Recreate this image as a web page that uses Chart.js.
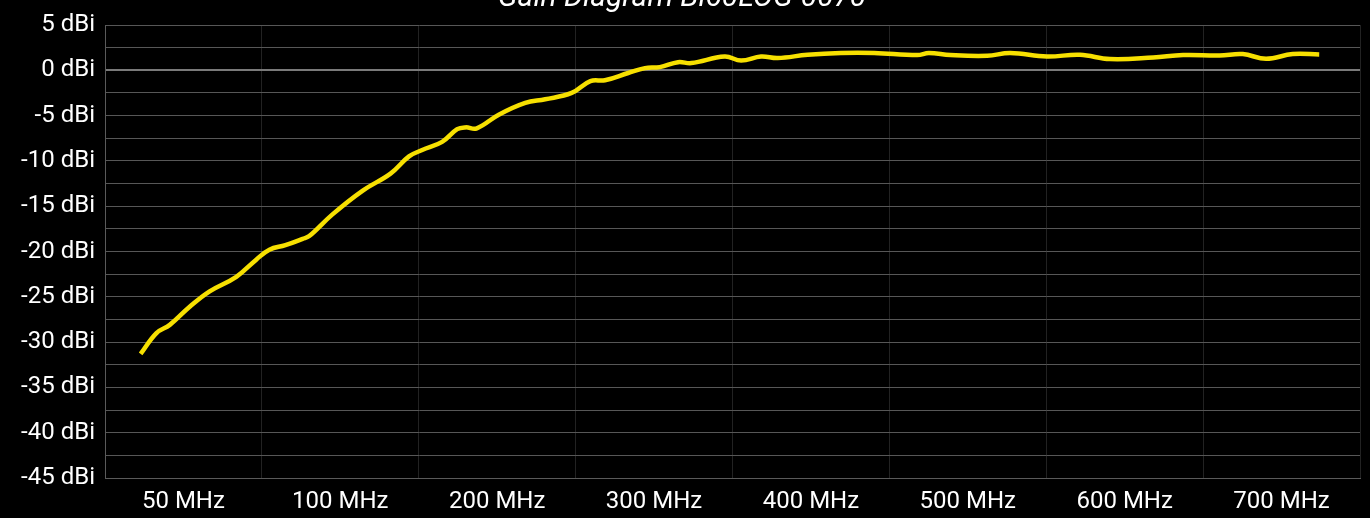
<!DOCTYPE html>
<html>
<head>
<meta charset="utf-8">
<script src="https://cdn.jsdelivr.net/npm/chart.js@4/dist/chart.umd.min.js"></script>
<style>
  html, body { margin: 0; padding: 0; background: #000; overflow: hidden; }
  #wrap { position: relative; width: 1370px; height: 518px; overflow: hidden; }
  #box { position: absolute; left: 0; top: -20px; width: 1370px; height: 538px; }
</style>
</head>
<body>
<div id="wrap"><div id="box"><canvas id="gain"></canvas></div></div>
<script>
// band labels under the x axis (one per band)
const bandLabels = ['50 MHz', '100 MHz', '200 MHz', '300 MHz', '400 MHz', '500 MHz', '600 MHz', '700 MHz'];

// measurement positions along the x axis (in band units) and gain in dBi
const xPos = [0.227, 0.328, 0.413, 0.540, 0.667, 0.837, 0.964, 1.048, 1.150, 1.260,
  1.302, 1.450, 1.641, 1.820, 1.938, 2.022, 2.149, 2.245, 2.298, 2.370,
  2.510, 2.679, 2.806, 2.975, 3.094, 3.187, 3.335, 3.442, 3.537, 3.653,
  3.738, 3.950, 4.055, 4.182, 4.288, 4.479, 4.691, 4.903, 5.178, 5.252,
  5.389, 5.623, 5.771, 6.004, 6.215, 6.406, 6.682, 6.872, 7.105, 7.253,
  7.401, 7.571, 7.740];
const gain = [-31.3, -29.0, -28.1, -26.1, -24.4, -22.8, -20.9, -19.8, -19.3, -18.6,
  -18.3, -15.9, -13.3, -11.4, -9.5, -8.8, -7.9, -6.5, -6.3, -6.4,
  -4.9, -3.6, -3.2, -2.5, -1.2, -1.1, -0.3, 0.24, 0.35, 0.9,
  0.8, 1.52, 1.08, 1.52, 1.35, 1.71, 1.9, 1.9, 1.68, 1.9,
  1.68, 1.6, 1.9, 1.52, 1.71, 1.24, 1.41, 1.68, 1.63, 1.79,
  1.27, 1.79, 1.74];

const yMin = -45;
const yMax = 5;
const title = 'Gain Diagram Bi60LOG-0070';

const points = xPos.map((x, i) => ({ x: x, y: gain[i] }));

new Chart(document.getElementById('gain'), {
  type: 'line',
  data: {
    datasets: [{
      data: points,
      borderColor: '#f7e000',
      borderWidth: 4.5,
      pointRadius: 0,
      tension: 0.4,
      fill: false
    }]
  },
  options: {
    responsive: true,
    maintainAspectRatio: false,
    animation: false,
    layout: { padding: { left: 0, right: 6, top: 0, bottom: 0 } },
    plugins: {
      legend: { display: false },
      tooltip: { enabled: false },
      title: {
        display: true,
        text: title,
        color: '#ffffff',
        font: { family: 'Roboto', size: 30, style: 'italic', weight: 'normal' },
        padding: { top: 0, bottom: 9 }
      }
    },
    scales: {
      x: {
        type: 'linear',
        min: 0,
        max: bandLabels.length,
        afterBuildTicks: (scale) => {
          const ticks = [];
          for (let v = 0; v <= bandLabels.length; v += 0.5) ticks.push({ value: v });
          scale.ticks = ticks;
        },
        afterFit: (scale) => { scale.height = 40; },
        border: { color: '#5a5a5a', width: 1 },
        grid: {
          drawTicks: false,
          color: (ctx) => Number.isInteger(ctx.tick.value) ? '#222222' : 'rgba(0,0,0,0)',
          lineWidth: 1
        },
        ticks: {
          autoSkip: false,
          maxRotation: 0,
          padding: 10,
          color: '#ffffff',
          font: { family: 'Roboto', size: 24 },
          callback: (v) => Number.isInteger(v) ? '' : bandLabels[Math.floor(v)]
        }
      },
      y: {
        min: yMin,
        max: yMax,
        afterFit: (scale) => { scale.width = 105; },
        border: { color: '#5a5a5a', width: 1 },
        grid: {
          drawTicks: false,
          color: (ctx) => ctx.tick.value === 0 ? '#7a7a7a' : '#575757',
          lineWidth: (ctx) => ctx.tick.value === 0 ? 2 : 1
        },
        ticks: {
          stepSize: 2.5,
          autoSkip: false,
          padding: 10,
          color: '#ffffff',
          font: { family: 'Roboto', size: 24 },
          callback: (v) => v % 5 === 0 ? v + ' dBi' : ''
        }
      }
    }
  }
});
</script>
</body>
</html>
